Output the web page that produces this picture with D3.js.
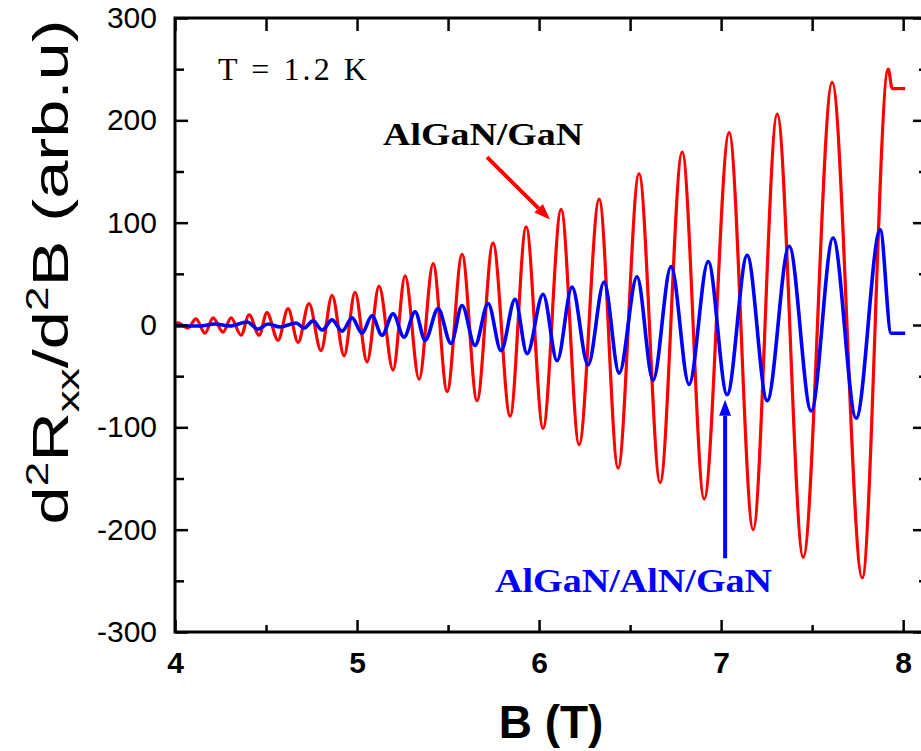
<!DOCTYPE html>
<html><head><meta charset="utf-8">
<script src="https://cdn.jsdelivr.net/npm/d3@7"></script>
<style>body{margin:0;background:#fff;} svg{display:block;}</style>
</head><body>
<svg id="c" width="921" height="751"></svg>
<script>
// ---- data ----
const redB = [4.005,4.016,4.071,4.115,4.165,4.209,4.264,4.308,4.363,4.407,4.462,4.505,4.566,4.621,4.676,4.736,4.802,4.863,4.929,4.989,5.055,5.121,5.198,5.264,5.341,5.418,5.495,5.577,5.659,5.747,5.841,5.929,6.022,6.121,6.220,6.330,6.434,6.549,6.665,6.786,6.907,7.044,7.176,7.308,7.451,7.610,7.775,7.918,7.940,8.011];
const redV = [1,2,-3,6,-8,7,-7,7,-10,10,-10,12,-15,16,-17,21,-25,29,-30,32,-36,38,-44,48,-53,60,-65,69,-74,80,-89,96,-101,113,-117,123,-140,148,-154,169,-170,188,-200,206,-227,237,-247,250,231,231];
const blueB = [4.005,4.137,4.220,4.302,4.396,4.456,4.511,4.577,4.665,4.709,4.758,4.808,4.863,4.918,4.973,5.027,5.082,5.137,5.198,5.258,5.319,5.374,5.445,5.516,5.577,5.648,5.720,5.791,5.868,5.934,6.022,6.099,6.181,6.269,6.357,6.440,6.538,6.626,6.725,6.824,6.929,7.033,7.143,7.253,7.374,7.495,7.615,7.742,7.874,7.934,8.011];
const blueV = [-1,-1,1,-1,3,-4,1,-2,2,-3,4,-5,5,-6,7,-8,9,-10,11,-12,13,-15,16,-18,19,-20,21,-25,25,-28,30,-35,37,-39,42,-47,47,-54,57,-58,62,-68,68,-74,77,-84,85,-91,93,-8,-8];
const xMajor = [4,5,6,7,8];
const xMinor = [4.5,5.5,6.5,7.5];
const yMajor = [-300,-200,-100,0,100,200,300];
const yMinor = [-250,-150,-50,50,150,250];

const svg = d3.select("#c");
const L=175, R=925, T=18, B=632;
const x = d3.scaleLinear().domain([4,8.12]).range([L,R]);
const y = d3.scaleLinear().domain([-300,300]).range([B,T]);

svg.append("defs").append("clipPath").attr("id","clip")
  .append("rect").attr("x",L).attr("y",T).attr("width",R-L).attr("height",B-T);

const line = d3.line().x(d=>x(d[0])).y(d=>y(d[1])).curve(d3.curveMonotoneX);
const g = svg.append("g").attr("clip-path","url(#clip)");
g.append("path").datum(redB.map((b,i)=>[b,redV[i]]))
  .attr("d",line).attr("fill","none").attr("stroke","#ff0000").attr("stroke-width",3.2);
g.append("path").datum(blueB.map((b,i)=>[b,blueV[i]]))
  .attr("d",line).attr("fill","none").attr("stroke","#0000ff").attr("stroke-width",3.6);

function styleAxis(sel){
  sel.select(".domain").remove();
  sel.selectAll(".tick line").attr("stroke","#000").attr("stroke-width",2.5);
}
// bottom
const gb = svg.append("g").attr("transform",`translate(0,${B})`)
  .call(d3.axisBottom(x).tickValues(xMajor).tickSize(-12).tickPadding(20).tickFormat(d=>String(d)));
styleAxis(gb);
gb.selectAll("text").attr("font-family","Liberation Sans, Arial, sans-serif").attr("font-weight","bold")
  .attr("font-size",30).attr("fill","#000").attr("dy","0.71em");
svg.append("g").attr("transform",`translate(0,${B})`)
  .call(d3.axisBottom(x).tickValues(xMinor).tickSize(-7).tickFormat(""))
  .call(styleAxis);
// top
svg.append("g").attr("transform",`translate(0,${T})`)
  .call(d3.axisTop(x).tickValues(xMajor.concat(xMinor)).tickSize(-13).tickFormat(""))
  .call(styleAxis);
// left
const gl = svg.append("g").attr("transform",`translate(${L},0)`)
  .call(d3.axisLeft(y).tickValues(yMajor).tickSize(-13).tickPadding(18).tickFormat(d=>String(d)));
styleAxis(gl);
gl.selectAll("text").attr("font-family","Liberation Sans, Arial, sans-serif")
  .attr("font-size",30).attr("fill","#000");
svg.append("g").attr("transform",`translate(${L},0)`)
  .call(d3.axisLeft(y).tickValues(yMinor).tickSize(-9).tickFormat(""))
  .call(styleAxis);
// right
svg.append("g").attr("transform",`translate(${R},0)`)
  .call(d3.axisRight(y).tickValues(yMajor).tickSize(-12).tickFormat(""))
  .call(styleAxis);
svg.append("g").attr("transform",`translate(${R},0)`)
  .call(d3.axisRight(y).tickValues(yMinor).tickSize(-6).tickFormat(""))
  .call(styleAxis);

// frame
svg.append("rect").attr("x",L).attr("y",T).attr("width",R-L).attr("height",B-T)
  .attr("fill","none").attr("stroke","#000").attr("stroke-width",3);

// axis titles
svg.append("text").attr("x",551).attr("y",738).attr("text-anchor","middle")
  .attr("font-family","Liberation Sans, Arial, sans-serif").attr("font-weight","bold")
  .attr("font-size",46).text("B (T)");
const yt = svg.append("text").attr("transform","translate(68,272) rotate(-90)")
  .attr("text-anchor","middle").attr("font-family","Liberation Sans, Arial, sans-serif")
  .attr("font-size",50).attr("textLength",505).attr("lengthAdjust","spacingAndGlyphs");
yt.append("tspan").text("d");
yt.append("tspan").attr("font-size",32).attr("dy",-20).text("2");
yt.append("tspan").attr("dy",20).text("R");
yt.append("tspan").attr("font-size",32).attr("dy",11).text("xx");
yt.append("tspan").attr("dy",-11).text("/d");
yt.append("tspan").attr("font-size",32).attr("dy",-20).text("2");
yt.append("tspan").attr("dy",20).text("B (arb.u)");

// annotations
svg.append("text").attr("x",x(4.236)).attr("y",y(239))
  .attr("font-family","Liberation Serif, Times New Roman, serif").attr("font-size",32)
  .attr("textLength",149).attr("lengthAdjust","spacing").text("T = 1.2 K");
svg.append("text").attr("x",x(5.143)).attr("y",y(176))
  .attr("font-family","Liberation Serif, Times New Roman, serif").attr("font-weight","bold")
  .attr("font-size",32).attr("textLength",200).attr("lengthAdjust","spacingAndGlyphs").text("AlGaN/GaN");
svg.append("text").attr("x",x(5.758)).attr("y",y(-261))
  .attr("font-family","Liberation Serif, Times New Roman, serif").attr("font-weight","bold")
  .attr("font-size",33).attr("fill","#0000ff").attr("textLength",277).attr("lengthAdjust","spacingAndGlyphs").text("AlGaN/AlN/GaN");

function arrow(b0,v0,b1,v1,color){
  const x0=x(b0),y0=y(v0),x1=x(b1),y1=y(v1);
  const a=Math.atan2(y1-y0,x1-x0), hl=16, hw=6;
  const bx=x1-hl*Math.cos(a), by=y1-hl*Math.sin(a);
  svg.append("line").attr("x1",x0).attr("y1",y0).attr("x2",bx).attr("y2",by)
    .attr("stroke",color).attr("stroke-width",4);
  const px=-Math.sin(a), py=Math.cos(a);
  svg.append("polygon").attr("points",
    `${x1},${y1} ${bx+hw*px},${by+hw*py} ${bx-hw*px},${by-hw*py}`).attr("fill",color);
}
arrow(5.714,164,6.06,103,"#ff0000");
arrow(7.022,-228,7.022,-73,"#0000ff");
</script>
</body></html>
